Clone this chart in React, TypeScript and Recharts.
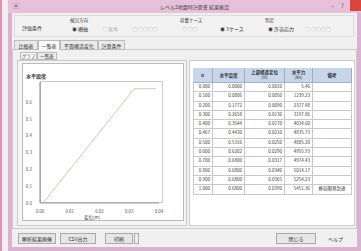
import React from 'react';
import { LineChart, Line, XAxis, YAxis } from 'recharts';

const ratios = ['0.000', '0.100', '0.200', '0.300', '0.400', '0.467', '0.500', '0.600', '0.700', '0.800', '0.900', '1.000'];
const displacement = [0.001, 0.005, 0.009, 0.013, 0.017, 0.021, 0.025, 0.029, 0.0317, 0.034, 0.0365, 0.039];
const seismicCoef = [0.0, 0.0886, 0.1772, 0.2658, 0.3544, 0.443, 0.5316, 0.6202, 0.68, 0.68, 0.68, 0.68];
const horizForce = [5.46, 1239.23, 2377.48, 3197.86, 4034.6, 4835.73, 4885.2, 4955.93, 4974.43, 5014.17, 5254.23, 5451.36];
const notes = ['', '', '', '', '', '', '', '', '', '', '', '終局限界到達'];
const xTicks = [0, 0.01, 0.02, 0.03, 0.04];
const yTicks = [0, 0.1, 0.2, 0.3, 0.4, 0.5, 0.6];

const chartData = displacement.map((d, i) => ({ d, k: seismicCoef[i] }));

const FONT = '"Noto Sans CJK JP", "Noto Sans", sans-serif';

const abs = (l: number, t: number, w: number, h: number, extra: React.CSSProperties = {}): React.CSSProperties => ({
  position: 'absolute', left: l, top: t, width: w, height: h, boxSizing: 'border-box', ...extra,
});

const Txt = ({ l, t, s, size = 5, color = '#333', bold = false }: any) => (
  <div style={{ position: 'absolute', left: l, top: t, fontSize: size, color, whiteSpace: 'nowrap', lineHeight: 1, fontWeight: bold ? 700 : 400 }}>{s}</div>
);

const Btn = ({ l, t, w, s }: any) => (
  <div style={abs(l, t, w, 11, { border: '1px solid #aaa', background: '#e6e6e6', fontSize: 5, color: '#333', display: 'flex', alignItems: 'center', justifyContent: 'center' })}>{s}</div>
);

export default function App() {
  const colW = [20, 32, 40, 28, 39];
  const header = ['α', '水平震度', '上部構造変位', '水平力', '備考'];
  const sub = ['', '', '(m)', '(kN)', ''];
  return (
    <div style={{ position: 'absolute', left: 0, top: 0, width: 361, height: 251, overflow: 'hidden', fontFamily: FONT, background: '#f3eef1' }}>
      <div style={abs(0, 0, 2, 251, { background: '#e490b4' })} />
      {/* window */}
      <div style={abs(8, 0, 353, 251, { background: '#dcb0cf' })} />
      <div style={abs(8, 0, 353, 13, { background: '#e7c1da' })} />
      <Txt l={13} t={3} s="▣" size={6} color="#777" />
      <Txt l={160} t={4} s="レベル2地震時計算書  結果確認" size={5} color="#444" />
      <Txt l={331} t={3} s="–" size={6} color="#555" />
      <Txt l={341} t={3} s="?" size={6} color="#555" />
      <div style={abs(350, 0, 11, 11, { background: '#d8463e' })} />
      <div style={abs(12, 13, 345, 234, { background: '#f0f0f0' })} />
      {/* toolbar */}
      <div style={abs(14, 15, 340, 22, { border: '1px solid #ddd', background: '#f2f2f2' })} />
      <Txt l={22} t={25} s="評価条件" />
      <Txt l={70} t={18} s="検討方向" size={4.5} />
      <Txt l={72} t={26} s="◉ 橋軸" />
      <Txt l={102} t={26} s="○ 直角" color="#aaa" />
      <Txt l={132} t={26} s="○ ○○○○" color="#aaa" />
      <Txt l={180} t={18} s="荷重ケース" size={4.5} />
      <Txt l={182} t={26} s="○ ○○" color="#aaa" />
      <Txt l={220} t={26} s="◉ 3ケース" />
      <Txt l={265} t={18} s="判定" size={4.5} />
      <Txt l={268} t={26} s="◉ 許容応力" />
      <Txt l={305} t={26} s="○ ○○○○" color="#aaa" />
      {/* tabs */}
      <div style={abs(12, 49, 345, 180, { border: '1px solid #ccc', background: '#f0f0f0' })} />
      {[['比較表', 14, 24], ['一覧表', 38, 22], ['平面構造変化', 60, 38], ['計算条件', 98, 27]].map(([s, l, w]: any, i) => (
        <div key={i} style={abs(l, 40, w, 10, { border: '1px solid #bbb', borderBottom: i === 1 ? 'none' : '1px solid #bbb', background: i === 1 ? '#fafafa' : '#eaeaea', fontSize: 5, color: '#333', display: 'flex', alignItems: 'center', justifyContent: 'center' })}>{s}</div>
      ))}
      {[['グラフ', 20, 17], ['一覧表', 37, 20]].map(([s, l, w]: any, i) => (
        <div key={i} style={abs(l, 52, w, 8, { border: '1px solid #bbb', background: i === 0 ? '#fafafa' : '#eaeaea', fontSize: 4.5, color: '#333', display: 'flex', alignItems: 'center', justifyContent: 'center' })}>{s}</div>
      ))}
      {/* chart panel */}
      <div style={abs(17, 60, 170, 166, { border: '1px solid #ccc', background: '#f4f4f4' })} />
      <div style={abs(22, 63, 162, 158, { border: '1px solid #bbb', background: '#fff' })} />
      <div style={abs(40, 81, 123, 122, { border: '1px solid #ccc' })} />
      <Txt l={26} t={73} s="水平震度" size={5} color="#333" bold />
      <div style={{ position: 'absolute', left: 22, top: 63 }}>
        <LineChart width={161} height={157} data={chartData} margin={{ top: 19, right: 24, bottom: 4, left: 4 }}>
          <XAxis type="number" dataKey="d" domain={[0, 0.04]} ticks={xTicks} tickFormatter={(v: number) => v.toFixed(2)}
            tick={{ fontSize: 4.5, fill: '#555', fontFamily: FONT }} tickLine={false} axisLine={{ stroke: '#999' }} height={13} tickMargin={1} />
          <YAxis type="number" domain={[0, 0.72]} ticks={yTicks} tickFormatter={(v: number) => v.toFixed(1)}
            tick={{ fontSize: 4.5, fill: '#555', fontFamily: FONT }} tickLine={false} axisLine={{ stroke: '#888' }} width={14} tickMargin={2} />
          <Line type="linear" dataKey="k" stroke="#bdbda4" strokeWidth={0.8} dot={false} isAnimationActive={false} />
        </LineChart>
      </div>
      <Txt l={84} t={215} s="変位(m)" size={4.5} color="#444" />
      {/* table panel */}
      <div style={abs(189, 60, 166, 166, { border: '1px solid #ccc', background: '#fff' })} />
      <div style={{ position: 'absolute', left: 193, top: 68, width: 159, fontSize: 4.5, color: '#333' }}>
        <div style={{ display: 'flex', height: 14, background: '#c7d6ea', borderBottom: '1px solid #9fb2cc' }}>
          {header.map((h, i) => (
            <div key={i} style={{ width: colW[i], boxSizing: 'border-box', borderRight: '1px solid #aab', display: 'flex', flexDirection: 'column', alignItems: 'center', justifyContent: 'center', lineHeight: 1.1, fontWeight: 700 }}>
              <span>{h}</span>{sub[i] && <span style={{ fontSize: 4, fontWeight: 400 }}>{sub[i]}</span>}
            </div>
          ))}
        </div>
        {ratios.map((r, ri) => {
          const cells = [r, seismicCoef[ri].toFixed(4), displacement[ri].toFixed(4), horizForce[ri].toFixed(2), notes[ri]];
          return (
            <div key={ri} style={{ display: 'flex', height: 8.3, borderBottom: '1px solid #c8c8c8' }}>
              {cells.map((c, ci) => (
                <div key={ci} style={{ width: colW[ci], boxSizing: 'border-box', borderRight: '1px solid #c8c8c8', borderLeft: ci === 0 ? '1px solid #c8c8c8' : 'none', textAlign: ci === 4 ? 'center' : 'right', paddingRight: ci === 4 ? 0 : 2, lineHeight: '7px', whiteSpace: 'nowrap', overflow: 'hidden' }}>{c}</div>
              ))}
            </div>
          );
        })}
      </div>
      {/* bottom buttons */}
      <Btn l={18} t={233} w={38} s="解析結果画像" />
      <Btn l={60} t={233} w={36} s="CSV出力" />
      <Btn l={105} t={233} w={28} s="印刷" />
      <div style={abs(134, 233, 5, 11, { border: '1px solid #aaa', background: '#eee' })} />
      <Btn l={276} t={233} w={40} s="閉じる" />
      <Txt l={328} t={236} s="ヘルプ" size={5} color="#335" />
    </div>
  );
}
